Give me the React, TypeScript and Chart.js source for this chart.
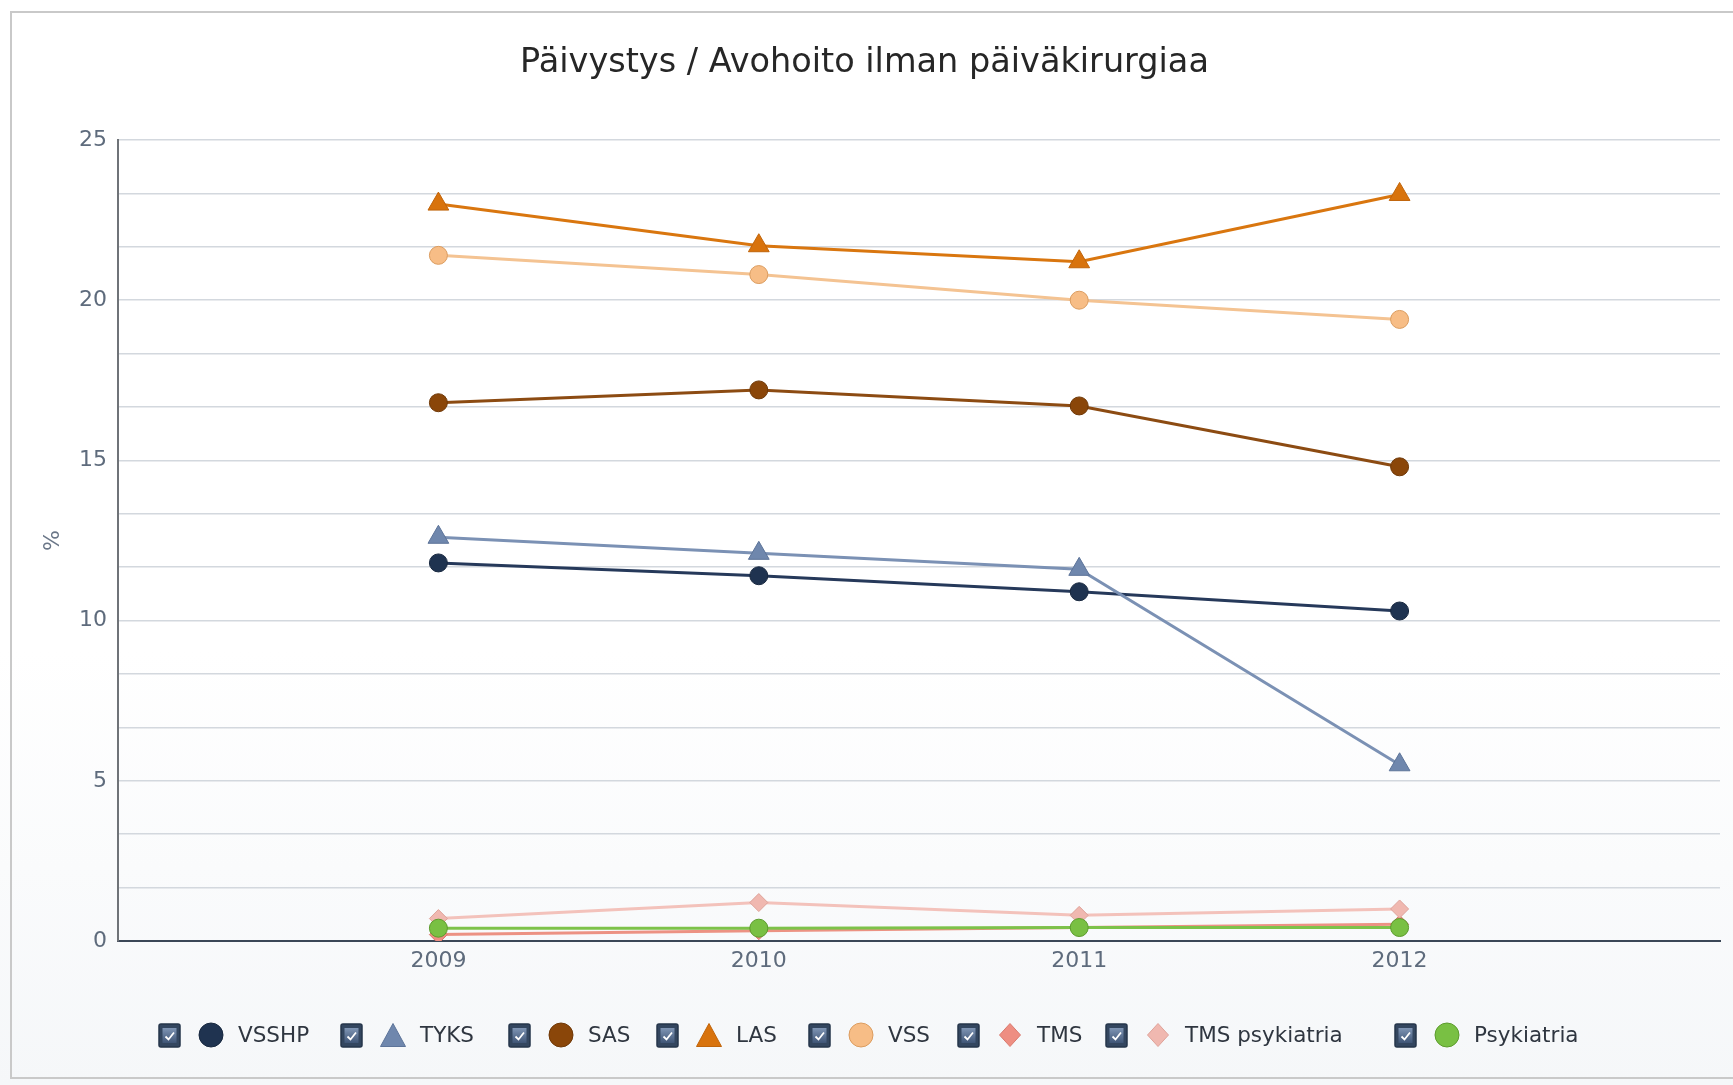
import React, { useEffect, useRef } from 'react';
import { Chart, registerables } from 'chart.js';

Chart.register(...registerables);

// ---- data ----
const years = [2009, 2010, 2011, 2012];
const vsshp = [11.8, 11.4, 10.9, 10.3];
const tyks = [12.6, 12.1, 11.6, 5.5];
const sas = [16.8, 17.2, 16.7, 14.8];
const las = [23.0, 21.7, 21.2, 23.3];
const vss = [21.4, 20.8, 20.0, 19.4];
const tms = [0.2, 0.32, 0.42, 0.52];
const tmsPsykiatria = [0.7, 1.2, 0.8, 1.0];
const psykiatria = [0.4, 0.4, 0.42, 0.42];
const yLabelValues = [0, 5, 10, 15, 20, 25];

const FONT = '"DejaVu Sans", Verdana, sans-serif';

type S = {
  label: string;
  values: number[];
  line: string;
  fill: string;
  border: string;
  shape: 'circle' | 'triangle' | 'rectRot';
  radius: number;
};

const series: S[] = [
  { label: 'VSSHP', values: vsshp, line: '#26395a', fill: '#1f3350', border: '#18283f', shape: 'circle', radius: 9 },
  { label: 'TYKS', values: tyks, line: '#7b91b4', fill: '#6f87ad', border: '#5d7499', shape: 'triangle', radius: 12 },
  { label: 'SAS', values: sas, line: '#8c4b12', fill: '#8a4609', border: '#6f3807', shape: 'circle', radius: 9 },
  { label: 'LAS', values: las, line: '#d9760f', fill: '#d8730d', border: '#c0640a', shape: 'triangle', radius: 12 },
  { label: 'VSS', values: vss, line: '#f4c392', fill: '#f7bd86', border: '#db9c5f', shape: 'circle', radius: 9 },
  { label: 'TMS', values: tms, line: '#ec9283', fill: '#ee8e82', border: '#d97a6e', shape: 'rectRot', radius: 9 },
  { label: 'TMS psykiatria', values: tmsPsykiatria, line: '#f3c2bb', fill: '#f0b8b0', border: '#dea299', shape: 'rectRot', radius: 9 },
  { label: 'Psykiatria', values: psykiatria, line: '#7dc24a', fill: '#79c043', border: '#5c9b2d', shape: 'circle', radius: 9 },
];

// legend layout (checkbox left edges)
const legendLeft = [158, 340, 508, 656, 808, 957, 1105, 1394];

function Marker({ shape, fill, border }: { shape: string; fill: string; border: string }) {
  return (
    <svg width="26" height="26" viewBox="0 0 26 26" style={{ display: 'block' }}>
      {shape === 'circle' && <circle cx="13" cy="13" r="12" fill={fill} stroke={border} strokeWidth="1" />}
      {shape === 'triangle' && <polygon points="13,1.5 25.5,24.5 0.5,24.5" fill={fill} stroke={border} strokeWidth="1" />}
      {shape === 'rectRot' && <polygon points="13,1.5 23.5,13 13,24.5 2.5,13" fill={fill} stroke={border} strokeWidth="1" />}
    </svg>
  );
}

function CheckBox() {
  return (
    <svg width="23" height="25" viewBox="0 0 23 25" style={{ display: 'block' }}>
      <defs>
        <linearGradient id="cbg" x1="0" y1="0" x2="0" y2="1">
          <stop offset="0" stopColor="#7f95b4" />
          <stop offset="1" stopColor="#3f5576" />
        </linearGradient>
      </defs>
      <rect x="1" y="1" width="21" height="23" rx="2" fill="#33465f" stroke="#26364b" strokeWidth="1.5" />
      <rect x="4.5" y="5" width="14" height="15" fill="url(#cbg)" />
      <path d="M7.5 13.5 L10.5 16.5 L16 9.5" fill="none" stroke="#ffffff" strokeWidth="1.8" />
    </svg>
  );
}

export default function App() {
  const canvasRef = useRef<HTMLCanvasElement | null>(null);

  useEffect(() => {
    document.body.style.margin = '0';
    const canvas = canvasRef.current;
    if (!canvas) return;

    const datasets = series.map((s, i) => ({
      label: s.label,
      data: years.map((y, j) => ({ x: y, y: s.values[j] })),
      borderColor: s.line,
      backgroundColor: s.fill,
      borderWidth: 3,
      pointStyle: s.shape,
      pointRadius: s.radius,
      pointBackgroundColor: s.fill,
      pointBorderColor: s.border,
      pointBorderWidth: 1,
      tension: 0,
      order: -i,
    }));

    const chart = new Chart(canvas, {
      type: 'line',
      data: { datasets },
      options: {
        animation: false,
        responsive: false,
        devicePixelRatio: 1,
        layout: { padding: { left: 0, right: 4, top: 0, bottom: 104 } },
        plugins: {
          legend: { display: false },
          tooltip: { enabled: false },
          title: {
            display: true,
            text: 'Päivystys / Avohoito ilman päiväkirurgiaa',
            color: '#262626',
            font: { family: FONT, size: 33.5, weight: 'normal' },
            padding: { top: 43, bottom: 56.8 },
          },
        },
        scales: {
          x: {
            type: 'linear',
            min: 2008,
            max: 2013,
            afterBuildTicks: (scale: any) => {
              scale.ticks = years.map((v) => ({ value: v }));
            },
            afterFit: (scale: any) => {
              scale.height = 40;
            },
            ticks: {
              color: '#5e6b7c',
              font: { family: FONT, size: 22 },
              padding: 7,
              callback: (v: any) => String(v),
              maxRotation: 0,
              autoSkip: false,
            },
            grid: { color: 'rgba(0,0,0,0)', drawTicks: false },
            border: { display: true, color: '#3b4757', width: 2 },
          },
          y: {
            type: 'linear',
            min: 0,
            max: 25,
            afterBuildTicks: (scale: any) => {
              const t: { value: number }[] = [];
              for (let i = 0; i <= 15; i++) t.push({ value: (i * 25) / 15 });
              scale.ticks = t;
            },
            afterFit: (scale: any) => {
              scale.width = 118;
            },
            ticks: {
              color: '#5e6b7c',
              font: { family: FONT, size: 22 },
              padding: 11,
              callback: (v: any) => {
                const n = Number(v);
                const hit = yLabelValues.find((k) => Math.abs(k - n) < 1e-6);
                return hit === undefined ? '' : String(hit);
              },
            },
            grid: { color: '#d3d8de', lineWidth: 1.5, drawTicks: false },
            border: { display: true, color: '#6f7378', width: 2 },
            title: {
              display: true,
              text: '%',
              color: '#6b7788',
              font: { family: FONT, size: 22 },
              padding: { top: 40, bottom: 0 },
            },
          },
        },
      } as any,
    });

    return () => chart.destroy();
  }, []);

  return (
    <div
      style={{
        position: 'absolute',
        left: 0,
        top: 0,
        width: 1733,
        height: 1085,
        overflow: 'hidden',
        background: 'linear-gradient(#ffffff 0%, #ffffff 60%, #f5f7f9 100%)',
        fontFamily: FONT,
      }}
    >
      <div
        style={{
          position: 'absolute',
          left: 10,
          top: 11,
          width: 1760,
          height: 1068,
          border: '2px solid #c9c9c9',
          boxSizing: 'border-box',
        }}
      />
      <canvas ref={canvasRef} width={1733} height={1085} style={{ position: 'absolute', left: 0, top: 0, width: 1733, height: 1085 }} />
      {series.map((s, i) => (
        <div
          key={s.label}
          style={{
            position: 'absolute',
            left: legendLeft[i],
            top: 1035 - 13,
            height: 26,
            display: 'flex',
            alignItems: 'center',
            whiteSpace: 'nowrap',
          }}
        >
          <CheckBox />
          <div style={{ width: 17 }} />
          <Marker shape={s.shape} fill={s.fill} border={s.border} />
          <div style={{ width: 14 }} />
          <span style={{ fontSize: 21.5, color: '#2f3640', lineHeight: '26px' }}>{s.label}</span>
        </div>
      ))}
    </div>
  );
}
